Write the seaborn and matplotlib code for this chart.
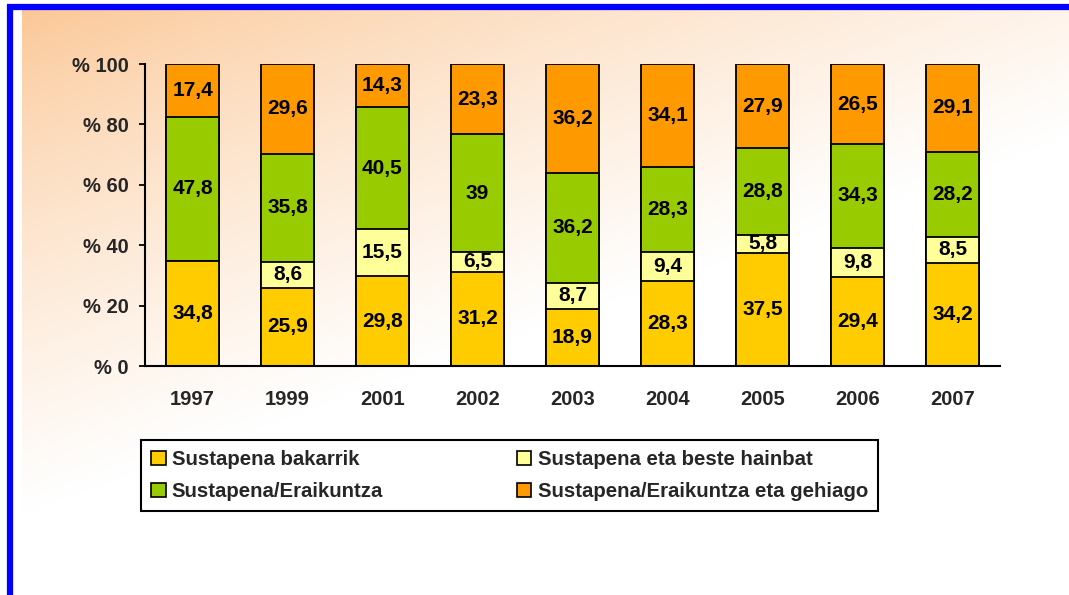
import numpy as np
import pandas as pd
import matplotlib
matplotlib.use("Agg")
import matplotlib.pyplot as plt
from matplotlib.patches import Patch
import seaborn as sns

years = ["1997", "1999", "2001", "2002", "2003", "2004", "2005", "2006", "2007"]
bakarrik = [34.8, 25.9, 29.8, 31.2, 18.9, 28.3, 37.5, 29.4, 34.2]
beste_hainbat = [0, 8.6, 15.5, 6.5, 8.7, 9.4, 5.8, 9.8, 8.5]
eraikuntza = [47.8, 35.8, 40.5, 39, 36.2, 28.3, 28.8, 34.3, 28.2]
gehiago = [17.4, 29.6, 14.3, 23.3, 36.2, 34.1, 27.9, 26.5, 29.1]

series_names = [
    "Sustapena bakarrik",
    "Sustapena eta beste hainbat",
    "Sustapena/Eraikuntza",
    "Sustapena/Eraikuntza eta gehiago",
]
series_values = [bakarrik, beste_hainbat, eraikuntza, gehiago]
series_colors = ["#FFCC00", "#FFFF99", "#99CC00", "#FF9900"]
y_ticks = [0, 20, 40, 60, 80, 100]
y_tick_labels = [f"% {t}" for t in y_ticks]

sns.set_style("white")
plt.rcParams["font.family"] = ["Liberation Sans", "DejaVu Sans"]
plt.rcParams["font.weight"] = "bold"

W, H = 1069, 595
fig = plt.figure(figsize=(W / 100, H / 100), dpi=100)
fig.patch.set_facecolor("white")

# background: peach gradient panel + blue frame lines
bg = fig.add_axes([0, 0, 1, 1])
bg.set_xlim(0, W)
bg.set_ylim(H, 0)
bg.axis("off")
gx, gy = np.meshgrid(np.linspace(0, 1, 300), np.linspace(0, 1, 200))
t = np.clip(0.75 * gx + 1.0 * gy, 0, 1) ** 0.75
peach = np.array([251, 198, 148]) / 255
img = peach[None, None, :] * (1 - t[..., None]) + t[..., None]
bg.imshow(img, extent=(22, W, 512, 10), aspect="auto", interpolation="bilinear")
bg.plot([7, W], [7, 7], color="#0000FF", lw=4.5, solid_capstyle="butt")
bg.plot([9.5, 9.5], [5, H], color="#0000FF", lw=4.5, solid_capstyle="butt")

ax = fig.add_axes([145 / W, (H - 366) / H, 855 / W, 302 / H])
ax.patch.set_alpha(0)

df = pd.DataFrame({"year": years})
cum = np.zeros(len(years))
cums = []
for vals in series_values:
    cum = cum + np.array(vals)
    cums.append(cum.copy())

# draw from the top of the stack downwards so each layer covers the one above
for i in range(len(series_values) - 1, -1, -1):
    df["top"] = cums[i]
    sns.barplot(data=df, x="year", y="top", color=series_colors[i], saturation=1,
                width=0.55, edgecolor="black", linewidth=1.3, ax=ax, zorder=2)

for i, vals in enumerate(series_values):
    base = cums[i] - np.array(vals)
    for j, v in enumerate(vals):
        if v <= 0:
            continue
        txt = f"{v:g}".replace(".", ",")
        ax.text(j, base[j] + v / 2, txt, ha="center", va="center",
                fontsize=15, fontweight="bold", color="black", zorder=3)

ax.set_ylim(0, 100)
ax.set_xlim(-0.5, len(years) - 0.5)
ax.set_yticks(y_ticks)
ax.set_yticklabels(y_tick_labels)
ax.set_xlabel("")
ax.set_ylabel("")
ax.set_xticks(np.arange(-0.5, len(years), 1), minor=True)
ax.tick_params(axis="x", which="major", length=0, pad=17, labelsize=14.5)
ax.tick_params(axis="x", which="minor", length=4.5, width=1.3, direction="out", color="black")
ax.tick_params(axis="y", which="major", length=4.5, width=1.3, direction="out",
               color="black", pad=7, labelsize=14.5, left=True)
for lab in ax.get_xticklabels() + ax.get_yticklabels():
    lab.set_fontweight("bold")
sns.despine(ax=ax)
for s in ["left", "bottom"]:
    ax.spines[s].set_color("black")
    ax.spines[s].set_linewidth(1.5)
ax.grid(False)

handles = [Patch(facecolor=c, edgecolor="black", linewidth=1.2) for c in series_colors]
order = [0, 2, 1, 3]
leg = fig.legend([handles[k] for k in order], [series_names[k] for k in order],
                 ncol=2, mode="expand", loc="upper left",
                 bbox_to_anchor=(141 / W, (H - 511) / H, 737 / W, 71 / H),
                 borderaxespad=0, fancybox=False, framealpha=1,
                 edgecolor="black", handlelength=0.7, handleheight=0.7,
                 handletextpad=0.3, labelspacing=0.62, borderpad=0.5,
                 prop={"size": 14.7, "weight": "bold"})
leg.get_frame().set_linewidth(1.5)

fig.savefig("out.png", dpi=100)
